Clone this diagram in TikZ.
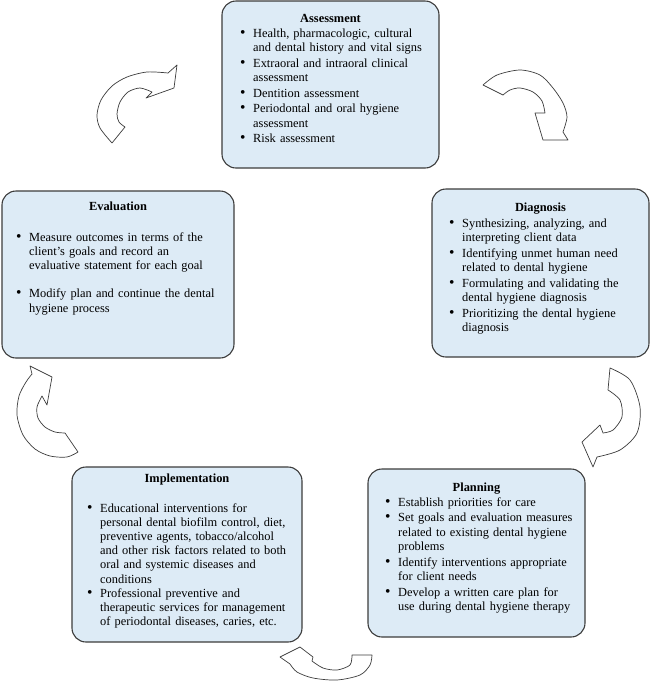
\documentclass[tikz,border=0pt]{standalone}
\usepackage{fontspec}
\setmainfont{Liberation Serif}
\usetikzlibrary{positioning}
\definecolor{cfill}{HTML}{DDEBF6}
\definecolor{cline}{HTML}{3C3C3C}
% one bullet point with hanging indent, optional gap after it
\newcommand{\litem}[2][1.6pt]{{\let\\\newline\hangindent=13pt\hangafter=1
  \makebox[13pt][l]{\scalebox{1.25}{\textbullet}}#2\par}\vspace{#1}}

\begin{document}
\begin{tikzpicture}[x=1pt,y=-1pt,
  box/.style={draw=cline,line width=1.1pt,fill=cfill,rounded corners=14pt},
  head/.style={font=\fontsize{12.4}{14.2}\selectfont\bfseries,anchor=base,
               inner sep=0pt},
  items/.style={font=\fontsize{12.4}{14.2}\selectfont,anchor=base west,
                inner sep=0pt,text width=225pt,align=left},
  curved/.style={draw=cline,line width=0.7pt,fill=white,line join=round}]
\useasboundingbox (0,0) rectangle (650,681);

% the five stages
\node[box,minimum width=217pt,minimum height=167pt] (assess) at (330.5,84.5) {};
\node[box,minimum width=217pt,minimum height=168pt] (diag) at (540.5,273) {};
\node[box,minimum width=232pt,minimum height=167pt] (eval) at (118,274.5) {};
\node[box,minimum width=230pt,minimum height=175pt] (impl) at (187,554.5) {};
\node[box,minimum width=217pt,minimum height=168pt] (plan) at (476.5,553) {};

\node[head] (assess-h) at ([yshift=-22pt]assess.north) {Assessment};
\node[head] (diag-h) at ([yshift=-23pt]diag.north) {Diagnosis};
\node[head] (eval-h) at ([yshift=-20pt]eval.north) {Evaluation};
\node[head] (impl-h) at ([yshift=-16pt]impl.north) {Implementation};
\node[head] (plan-h) at ([yshift=-23pt]plan.north) {Planning};

\node[items] (assess-l) at (240,37) {%
  \litem{Health, pharmacologic, cultural\\and dental history and vital signs}
  \litem{Extraoral and intraoral clinical\\assessment}
  \litem{Dentition assessment}
  \litem{Periodontal and oral hygiene\\assessment}
  \litem{Risk assessment}};
\node[items] (diag-l) at (449,227) {%
  \litem{Synthesizing, analyzing, and\\interpreting client data}
  \litem{Identifying unmet human need\\related to dental hygiene}
  \litem{Formulating and validating the\\dental hygiene diagnosis}
  \litem{Prioritizing the dental hygiene\\diagnosis}};
\node[items] (eval-l) at (16,241) {%
  \litem[14.2pt]{Measure outcomes in terms of the\\client’s goals and record an\\evaluative statement for each goal}
  \litem[14.2pt]{Modify plan and continue the dental\\hygiene process}};
\node[items] (impl-l) at (87,512) {%
  \litem[0pt]{Educational interventions for\\personal dental biofilm control, diet,\\preventive agents, tobacco/alcohol\\and other risk factors related to both\\oral and systemic diseases and\\conditions}
  \litem[0pt]{Professional preventive and\\therapeutic services for management\\of periodontal diseases, caries, etc.}};
\node[items] (plan-l) at (385,506) {%
  \litem{Establish priorities for care}
  \litem{Set goals and evaluation measures\\related to existing dental hygiene\\problems}
  \litem{Identify interventions appropriate\\for client needs}
  \litem{Develop a written care plan for\\use during dental hygiene therapy}};

% curved block arrows, clockwise
\draw[curved] plot[smooth] coordinates {(112,143) (100,128) (97,115) (101,100)
    (112,86) (127,77) (147,72) (168,73)}
  -- (177,65) -- (174,88) -- (146,98) -- (152,92)
  -- plot[smooth] coordinates {(152,92) (140,88) (128,92) (120,102) (117,114)
    (119,122) (125,127)} -- cycle;
\draw[curved] plot[smooth] coordinates {(483,85) (497,75) (520,70) (540,75)
    (553,88) (563,103) (567,117) (563,132)}
  -- (568,140) -- (543,140) -- (535,113) -- (545,113)
  -- plot[smooth] coordinates {(545,113) (542,101) (533,92) (520,88) (510,90)
    (503,95)} -- cycle;
\draw[curved] plot[smooth] coordinates {(610,368) (630,380) (640,407) (637,433)
    (620,450) (597,457)}
  -- (593,467) -- (582,442) -- (600,425) -- (603,433)
  -- plot[smooth] coordinates {(603,433) (613,430) (622,417) (620,400)
    (608,390)} -- cycle;
\draw[curved] plot[smooth] coordinates {(372,655) (370,665) (360,675) (337,680)
    (313,678) (297,672) (290,664)}
  -- (280,657) -- (300,647) -- (313,657) -- (312,661)
  -- plot[smooth] coordinates {(312,661) (323,668) (337,670) (350,665)
    (352,655)} -- cycle;
\draw[curved] plot[smooth] coordinates {(78,452) (67,457) (50,456) (35,449)
    (23,435) (17,415) (19,396) (26,382) (32,374)}
  -- (30,366) -- (52,377) -- (47,405) -- (42,396)
  -- plot[smooth] coordinates {(42,396) (37,407) (38,418) (45,427) (55,432)
    (65,433)} -- cycle;
\end{tikzpicture}
\end{document}
